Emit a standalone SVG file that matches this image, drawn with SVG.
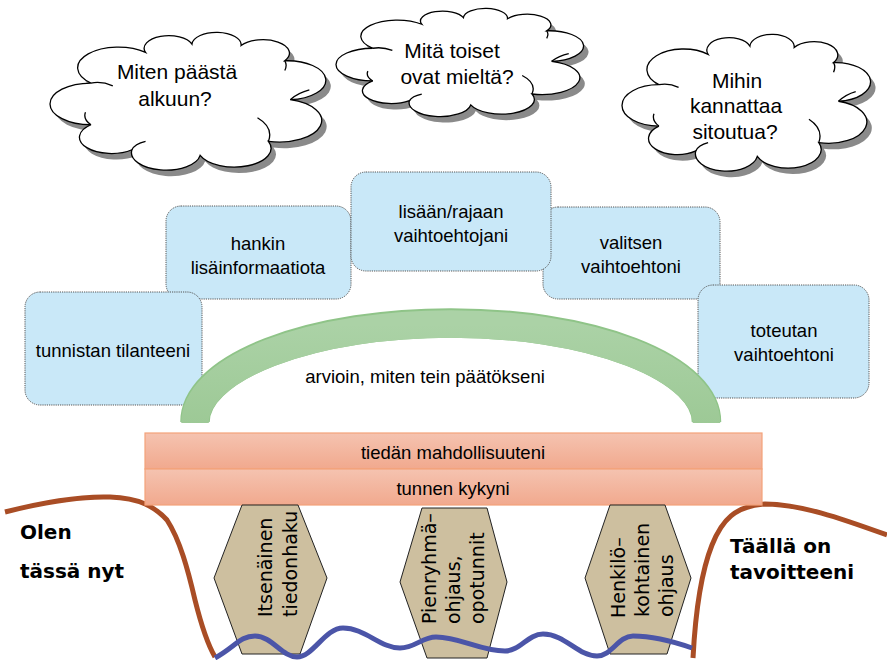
<svg xmlns="http://www.w3.org/2000/svg" xmlns:xlink="http://www.w3.org/1999/xlink" width="887" height="660" viewBox="0 0 887 660">
<style>
.t{font-family:"Liberation Sans",Arial,sans-serif;fill:#000}
.cloud-text{font-size:21px;text-anchor:middle}
.box{fill:#c9e8f8;stroke:#555;stroke-width:1;stroke-dasharray:1.2 1}
.box-text{font-size:18.5px;text-anchor:middle}
.bar{fill:url(#barGrad);stroke:#f4a27a;stroke-width:1.2}
.hex{fill:#cdbf9f;stroke:#222;stroke-width:1}
.hex-text{font-family:"DejaVu Sans",Verdana,sans-serif;font-size:19px;fill:#000}
.bold{font-family:"DejaVu Sans",Verdana,sans-serif;font-weight:bold;font-size:20px;fill:#000}
.cloud{fill:#fff;stroke:#000;stroke-width:1.3}
.cloud-shadow{fill:#8a8a8a;stroke:none}
.crease{fill:none;stroke:#000;stroke-width:1.3}
.brown{fill:none;stroke:#a94d25;stroke-width:5;stroke-linecap:butt}
.wave{fill:none;stroke:#4b55a8;stroke-width:5}
</style>
<defs>
<path id="cloudShape" vector-effect="non-scaling-stroke" d="M15,66 A1,1 0 0 1 15,36 A1,1 0 0 1 35,14 A1,1 0 0 1 52,8 A1,1 0 0 1 70,9 A1,1 0 0 1 86,20 A1,1 0 0 1 88,48 A1,1 0 0 1 80,78 A1,1 0 0 1 55,88 A1,1 0 0 1 30,84 A1,1 0 0 1 15,66 Z"/>
<path id="cloudCrease" vector-effect="non-scaling-stroke" d="M15,36 Q19,34.5 23,38 M86,20 Q87,23 86,27 M88,48 Q91,43 95,41 M80,78 Q82,68 76,61 M30,84 Q31,80 35,78 M15,66 Q12,62 13,57"/>
<linearGradient id="barGrad" x1="0" y1="0" x2="0" y2="1">
<stop offset="0" stop-color="#f5c3b0"/>
<stop offset="1" stop-color="#f1a98e"/>
</linearGradient>
<linearGradient id="archGrad" x1="0" y1="0" x2="0" y2="1">
<stop offset="0" stop-color="#abd2a6"/>
<stop offset="1" stop-color="#9dc996"/>
</linearGradient>
</defs>

<g id="cloud-1">
<use xlink:href="#cloudShape" class="cloud-shadow" transform="translate(55,39) scale(2.73,1.39)"/>
<use xlink:href="#cloudShape" class="cloud" transform="translate(50,33) scale(2.73,1.39)"/>
<use xlink:href="#cloudCrease" class="crease" transform="translate(50,33) scale(2.73,1.39)"/>
<text class="t cloud-text" x="177" y="79">Miten päästä</text>
<text class="t cloud-text" x="175" y="106">alkuun?</text>
</g>
<g id="cloud-2">
<use xlink:href="#cloudShape" class="cloud-shadow" transform="translate(341,15) scale(2.45,1.09)"/>
<use xlink:href="#cloudShape" class="cloud" transform="translate(336,9) scale(2.45,1.09)"/>
<use xlink:href="#cloudCrease" class="crease" transform="translate(336,9) scale(2.45,1.09)"/>
<text class="t cloud-text" x="452" y="58">Mitä toiset</text>
<text class="t cloud-text" x="457" y="84">ovat mieltä?</text>
</g>
<g id="cloud-3">
<use xlink:href="#cloudShape" class="cloud-shadow" transform="translate(627,41) scale(2.46,1.38)"/>
<use xlink:href="#cloudShape" class="cloud" transform="translate(622,35) scale(2.46,1.38)"/>
<use xlink:href="#cloudCrease" class="crease" transform="translate(622,35) scale(2.46,1.38)"/>
<text class="t cloud-text" x="737" y="88">Mihin</text>
<text class="t cloud-text" x="736" y="113">kannattaa</text>
<text class="t cloud-text" x="735" y="139">sitoutua?</text>
</g>

<g id="box-hankin">
<rect class="box" x="166" y="206" width="185" height="93" rx="15"/>
<text class="t box-text" x="258" y="250">hankin</text>
<text class="t box-text" x="258" y="274">lisäinformaatiota</text>
</g>
<g id="box-tunnistan">
<rect class="box" x="25" y="292" width="177" height="113" rx="15"/>
<text class="t box-text" x="113" y="357">tunnistan tilanteeni</text>
</g>
<g id="box-valitsen">
<rect class="box" x="543" y="207" width="177" height="92" rx="15"/>
<text class="t box-text" x="631" y="249">valitsen</text>
<text class="t box-text" x="631" y="273">vaihtoehtoni</text>
</g>
<g id="box-lisaan">
<rect class="box" x="351" y="172" width="200" height="99" rx="15"/>
<text class="t box-text" x="451" y="218">lisään/rajaan</text>
<text class="t box-text" x="451" y="242">vaihtoehtojani</text>
</g>
<g id="box-toteutan">
<rect class="box" x="698" y="285" width="171" height="113" rx="15"/>
<text class="t box-text" x="784" y="337">toteutan</text>
<text class="t box-text" x="784" y="361">vaihtoehtoni</text>
</g>

<g id="arch">
<path d="M195,422 A255.5,99 0 0 1 706.5,422" fill="none" stroke="#8fc488" stroke-width="29.5"/>
<path d="M195,423 A255.5,99 0 0 1 706.5,423" fill="none" stroke="url(#archGrad)" stroke-width="27.5"/>
<text class="t box-text" x="425" y="383">arvioin, miten tein päätökseni</text>
</g>

<g id="connectors">
<path class="brown" d="M5,512 C40,503 80,496 110,497 C140,498 155,507 167,520 C180,540 188,570 195,600 C202,628 208,645 215,657"/>
<path class="brown" d="M693,658 C695,620 700,575 712,545 C722,520 735,506 765,504 C800,504 840,518 887,535"/>
</g>

<g id="bar-tiedan">
<rect class="bar" x="145" y="433" width="617" height="36"/>
<text class="t box-text" x="453" y="459">tiedän mahdollisuuteni</text>
</g>
<g id="bar-tunnen">
<rect class="bar" x="145" y="469" width="617" height="36"/>
<text class="t box-text" x="453" y="495">tunnen kykyni</text>
</g>

<g id="hex-1">
<polygon class="hex" points="242,505 298,505 327,578 300,654 242,654 214,578"/>
<text class="hex-text" transform="translate(272,617) rotate(-90)">Itsenäinen</text>
<text class="hex-text" transform="translate(297,617) rotate(-90)">tiedonhaku</text>
</g>
<g id="hex-2">
<polygon class="hex" points="422,508 487,508 507,582 487,658 427,658 400,582"/>
<text class="hex-text" transform="translate(436,624) rotate(-90)">Pienryhmä–</text>
<text class="hex-text" transform="translate(460,624) rotate(-90)">ohjaus,</text>
<text class="hex-text" transform="translate(484,624) rotate(-90)">opotunnit</text>
</g>
<g id="hex-3">
<polygon class="hex" points="610,505 665,505 691,578 667,654 610,654 585,578"/>
<text class="hex-text" transform="translate(625,618) rotate(-90)">Henkilö–</text>
<text class="hex-text" transform="translate(649,617) rotate(-90)">kohtainen</text>
<text class="hex-text" transform="translate(673,617) rotate(-90)">ohjaus</text>
</g>

<g id="wave">
<path class="wave" d="M215,658 C235,647 240,636 255,636 C272,636 282,657 297,657 C313,657 325,628 343,628 C365,628 380,648 400,648 C415,648 422,637 436,637 C460,637 480,651 505,651 C520,651 528,634 543,634 C565,634 578,656 597,656 C612,656 618,636 633,636 C655,636 675,642 692,648"/>
</g>

<g id="labels">
<text class="bold" x="20" y="539">Olen</text>
<text class="bold" x="20" y="578">tässä nyt</text>
<text class="bold" x="730" y="553">Täällä on</text>
<text class="bold" x="730" y="579">tavoitteeni</text>
</g>
</svg>
